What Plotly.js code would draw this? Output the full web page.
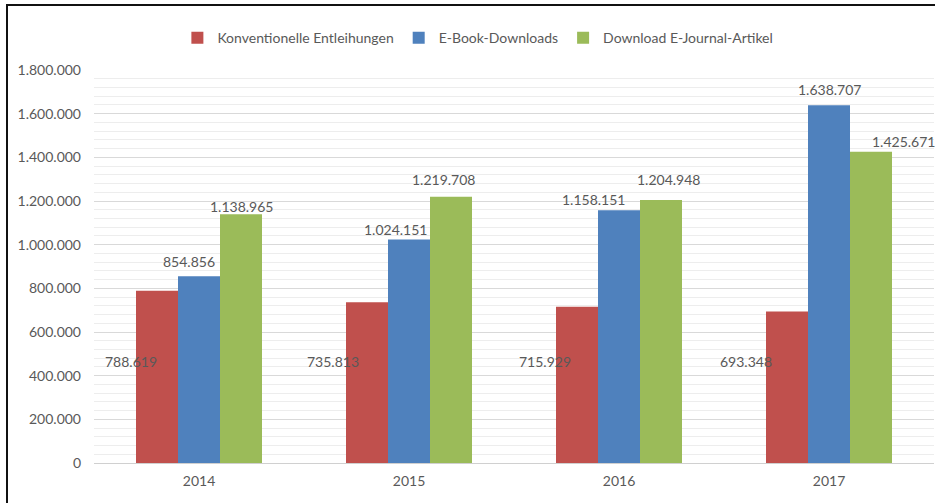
<!DOCTYPE html>
<html>
<head>
<meta charset="utf-8">
<script src="https://cdn.plot.ly/plotly-3.0.1.min.js"></script>
<style>
  html, body { margin: 0; padding: 0; background: #ffffff; }
  #frame { position: absolute; left: 6px; top: 4px; width: 1000px; height: 1000px; border-left: 2px solid #111; border-top: 2px solid #111; }
  #chart { position: absolute; left: 0; top: 0; width: 935px; height: 503px; }
</style>
</head>
<body>
<div id="frame"></div>
<div id="chart"></div>
<script>
const years = ['2014', '2015', '2016', '2017'];
const konventionell = [788619, 735813, 715929, 693348];
const ebook = [854856, 1024151, 1158151, 1638707];
const ejournal = [1138965, 1219708, 1204948, 1425671];
const seriesNames = ['Konventionelle Entleihungen', 'E-Book-Downloads', 'Download E-Journal-Artikel'];

const colors = ['#C0504D', '#4F81BD', '#9BBB59'];
const textColor = '#595959';
const fontFamily = 'Lato, "Open Sans", sans-serif';
const series = [konventionell, ebook, ejournal];

const traces = series.map((vals, s) => ({
  type: 'bar', name: seriesNames[s], x: years, y: vals, marker: { color: colors[s] }
}));

// Label placement (pixel offsets, as in the reference)
const barOffset = [-42, 0, 42];            // px from category centre to bar centre
const labelDx = [[-26, -34, -32, -41],    // red labels sit inside, left of bar
                 [-10, -14, -26, 0],
                 [0, -8, 7, 32]];
const labelDy = [[null, null, null, null],
                 [15, 10, 11, 16],
                 [8, 17, 20, 10]];
const redLabelY = 465000;

const fmt = v => v.toString().replace(/\B(?=(\d{3})+(?!\d))/g, '.');
const annotations = [];
series.forEach((vals, s) => {
  vals.forEach((v, i) => {
    const a = {
      x: i, xref: 'x', yref: 'y', text: fmt(v), showarrow: false,
      xshift: barOffset[s] + labelDx[s][i], yanchor: 'middle',
      font: { color: textColor, size: 14, family: fontFamily }
    };
    if (s === 0) { a.y = redLabelY; } else { a.y = v; a.yshift = labelDy[s][i]; }
    annotations.push(a);
  });
});

const layout = {
  width: 935, height: 503,
  margin: { l: 94, r: 1, t: 70, b: 40 },
  paper_bgcolor: 'rgba(0,0,0,0)', plot_bgcolor: 'rgba(0,0,0,0)',
  separators: ',.',
  font: { family: fontFamily, color: textColor, size: 14 },
  barmode: 'group', bargap: 0.4, bargroupgap: 0,
  showlegend: true,
  legend: { orientation: 'h', x: 0.457, xanchor: 'center', y: 1.081, yanchor: 'middle',
            font: { size: 14, color: textColor, family: fontFamily },
            traceorder: 'normal' },
  xaxis: { type: 'category', range: [-0.5, 3.5], showgrid: false, showline: false, ticks: '',
           tickfont: { size: 14, color: textColor }, ticklabelstandoff: 8 },
  yaxis: { range: [0, 1800000], dtick: 200000, tickformat: ',.0f',
           showgrid: true, gridcolor: '#d9d9d9', gridwidth: 1,
           zeroline: true, zerolinecolor: '#d0d0d0', zerolinewidth: 1,
           minor: { dtick: 40000, showgrid: true, gridcolor: '#ededed', gridwidth: 1 },
           ticks: '', tickfont: { size: 14, color: textColor }, ticklabelstandoff: 12 },
  annotations: annotations
};

Plotly.newPlot('chart', traces, layout, { displayModeBar: false, staticPlot: true });
</script>
</body>
</html>
